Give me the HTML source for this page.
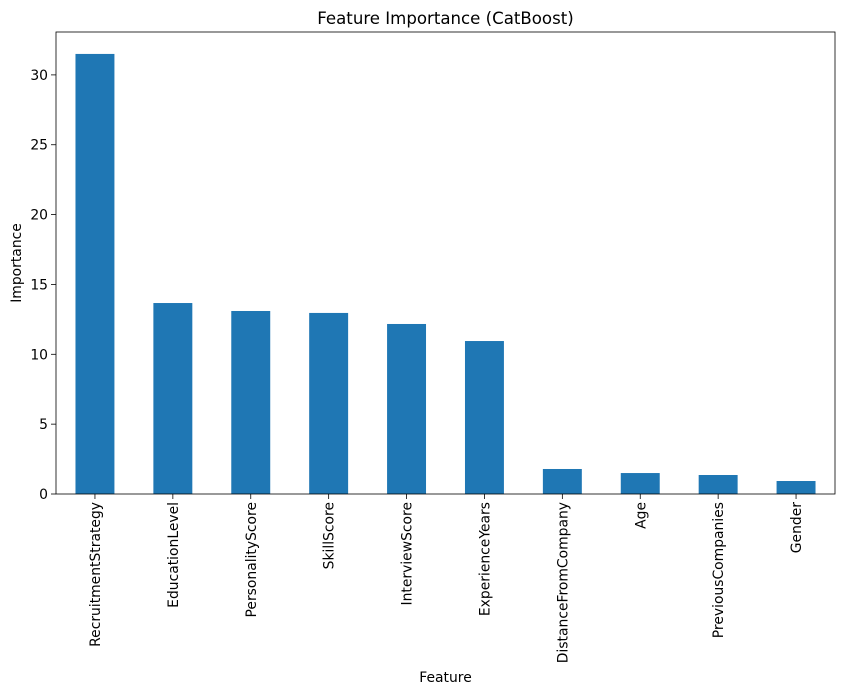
<!DOCTYPE html>
<html><head><meta charset="utf-8"><style>
body{margin:0;background:#fff;}
svg{display:block;font-family:"DejaVu Sans","Liberation Sans",sans-serif;}
</style></head><body>
<svg id="chart" width="841" height="695"></svg>
<script>
const categories=["RecruitmentStrategy","EducationLevel","PersonalityScore","SkillScore","InterviewScore","ExperienceYears","DistanceFromCompany","Age","PreviousCompanies","Gender"];
const importance=[31.5,13.67,13.1,12.96,12.17,10.95,1.79,1.5,1.36,0.93];
const yTicks=[0,5,10,15,20,25,30];
const NS="http://www.w3.org/2000/svg";
const svg=document.getElementById('chart');
const L=56,R=835,T=32,B=494,yMax=33.07;
const y=v=>B-(v/yMax)*(B-T);
const step=(R-L)/categories.length;
const x=i=>L+step*(i+0.5);
function mk(tag,attrs,txt){const e=document.createElementNS(NS,tag);for(const k in attrs)e.setAttribute(k,attrs[k]);if(txt!==undefined)e.textContent=txt;svg.appendChild(e);return e;}
importance.forEach((v,i)=>{
 const r=mk('rect',{x:x(i)-step*0.25,y:y(v),width:step*0.5,height:B-y(v),fill:'#1f77b4'});
 
 
 const t=mk('line',{x1:x(i),x2:x(i),y1:B,y2:B+5,stroke:'#000','stroke-width':0.8});
 
 
 const lb=mk('text',{x:0,y:0,'font-size':13.9,'text-anchor':'end',transform:`translate(${x(i)+5},${B+8}) rotate(-90)`},categories[i]);
 
 
});
yTicks.forEach(v=>{
 const t=mk('line',{x1:L-5,x2:L,y1:y(v),y2:y(v),stroke:'#000','stroke-width':0.8});
 
 
 const lb=mk('text',{x:L-8,y:y(v)+5,'font-size':13.9,'text-anchor':'end'},String(v));
 
 
});
const fr=mk('rect',{x:L,y:T,width:R-L,height:B-T,fill:'none',stroke:'#000','stroke-width':0.8});


const ti=mk('text',{x:(L+R)/2,y:T-8,'font-size':16.6,'text-anchor':'middle'},'Feature Importance (CatBoost)');


const xt=mk('text',{x:(L+R)/2,y:682,'font-size':13.9,'text-anchor':'middle'},'Feature');


const yt=mk('text',{x:0,y:0,'font-size':13.9,'text-anchor':'middle',transform:`translate(21,${(T+B)/2}) rotate(-90)`},'Importance');


</script>
</body></html>
